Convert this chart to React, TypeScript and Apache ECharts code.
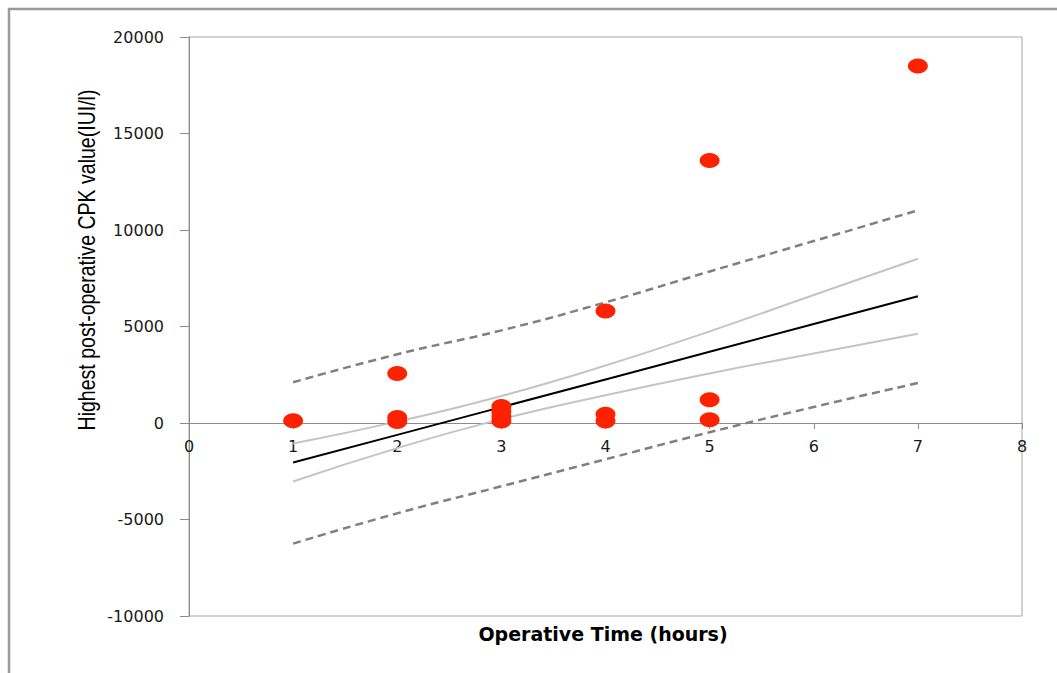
import React, { useEffect, useRef } from "react";
import * as echarts from "echarts";

const xTicks = [1, 2, 3, 4, 5, 6, 7];
const fitLine = [-2050, -614, 822, 2258, 3694, 5130, 6566];
const confUpper = [-1060, 70, 1400, 2980, 4750, 6630, 8510];
const confLower = [-3030, -1300, 200, 1440, 2570, 3600, 4620];
const predUpper = [2110, 3560, 4800, 6250, 7850, 9430, 11020];
const predLower = [-6250, -4680, -3280, -1880, -480, 830, 2070];

const pointX = [1, 2, 2, 2, 3, 3, 3, 3, 4, 4, 4, 5, 5, 5, 7];
const pointY = [120, 2560, 280, 80, 850, 600, 350, 100, 5800, 450, 100, 13600, 1200, 170, 18500];

const yAxisTitle = "Highest post-operative CPK value(IUI/l)";
const xAxisTitle = "Operative Time (hours)";

const pairs = (ys: number[]) => xTicks.map((x, i) => [x, ys[i]]);

export default function App() {
  const ref = useRef<HTMLDivElement>(null);
  useEffect(() => {
    if (!ref.current) return;
    const chart = echarts.init(ref.current, undefined, { renderer: "svg" });
    const axisFont = { fontFamily: "DejaVu Sans", fontSize: 16, color: "#1a1a1a" };
    chart.setOption({
      animation: false,
      backgroundColor: "#ffffff",
      grid: {
        left: 189,
        top: 37,
        right: 35,
        bottom: 57,
        show: true,
        borderColor: "#a6a6a6",
        borderWidth: 1,
        backgroundColor: "transparent",
      },
      xAxis: {
        type: "value",
        min: 0,
        max: 8,
        interval: 1,
        position: "bottom",
        offset: -193,
        axisLine: { onZero: false, lineStyle: { color: "#8c8c8c", width: 1 } },
        axisTick: { show: true, inside: false, length: 6, lineStyle: { color: "#8c8c8c" } },
        axisLabel: { ...axisFont, margin: 15, formatter: (v: number) => String(v) },
        splitLine: { show: false },
      },
      yAxis: {
        type: "value",
        min: -10000,
        max: 20000,
        interval: 5000,
        axisLine: { show: true, lineStyle: { color: "#8c8c8c", width: 1 } },
        axisTick: { show: true, inside: false, length: 9, lineStyle: { color: "#8c8c8c" } },
        axisLabel: { ...axisFont, margin: 25, formatter: (v: number) => String(v) },
        splitLine: { show: false },
      },
      graphic: [
        {
          type: "rect",
          shape: { x: 9, y: 9, width: 1200, height: 800 },
          style: { fill: "none", stroke: "#9a9a9a", lineWidth: 2.5 },
          silent: true,
        },
        {
          type: "text",
          x: 87,
          y: 260,
          rotation: Math.PI / 2,
          scaleX: 0.85,
          style: {
            text: yAxisTitle,
            fontFamily: "'Liberation Sans Narrow', 'Arial Narrow', 'Liberation Sans', sans-serif",
            fontSize: 23,
            fill: "#000000",
            align: "center",
            verticalAlign: "middle",
          },
        },
        {
          type: "text",
          x: 603,
          y: 634,
          style: {
            text: xAxisTitle,
            fontFamily: "DejaVu Sans",
            fontWeight: "bold",
            fontSize: 19,
            fill: "#000000",
            align: "center",
            verticalAlign: "middle",
          },
        },
      ],
      series: [
        {
          type: "line",
          data: pairs(predUpper),
          showSymbol: false,
          smooth: true,
          lineStyle: { color: "#808080", width: 2.5, type: [8, 5] },
        },
        {
          type: "line",
          data: pairs(predLower),
          showSymbol: false,
          smooth: true,
          lineStyle: { color: "#808080", width: 2.5, type: [8, 5] },
        },
        {
          type: "line",
          data: pairs(confUpper),
          showSymbol: false,
          smooth: true,
          lineStyle: { color: "#c4c4c4", width: 2 },
        },
        {
          type: "line",
          data: pairs(confLower),
          showSymbol: false,
          smooth: true,
          lineStyle: { color: "#c4c4c4", width: 2 },
        },
        {
          type: "line",
          data: pairs(fitLine),
          showSymbol: false,
          lineStyle: { color: "#000000", width: 2 },
        },
        {
          type: "scatter",
          data: pointX.map((x, i) => [x, pointY[i]]),
          symbol: "circle",
          symbolSize: [20, 15],
          itemStyle: { color: "#ff2200", opacity: 1 },
          z: 5,
        },
      ],
    });
    return () => chart.dispose();
  }, []);
  return (
    <div
      ref={ref}
      style={{ position: "fixed", left: 0, top: 0, width: 1057, height: 673 }}
    />
  );
}
